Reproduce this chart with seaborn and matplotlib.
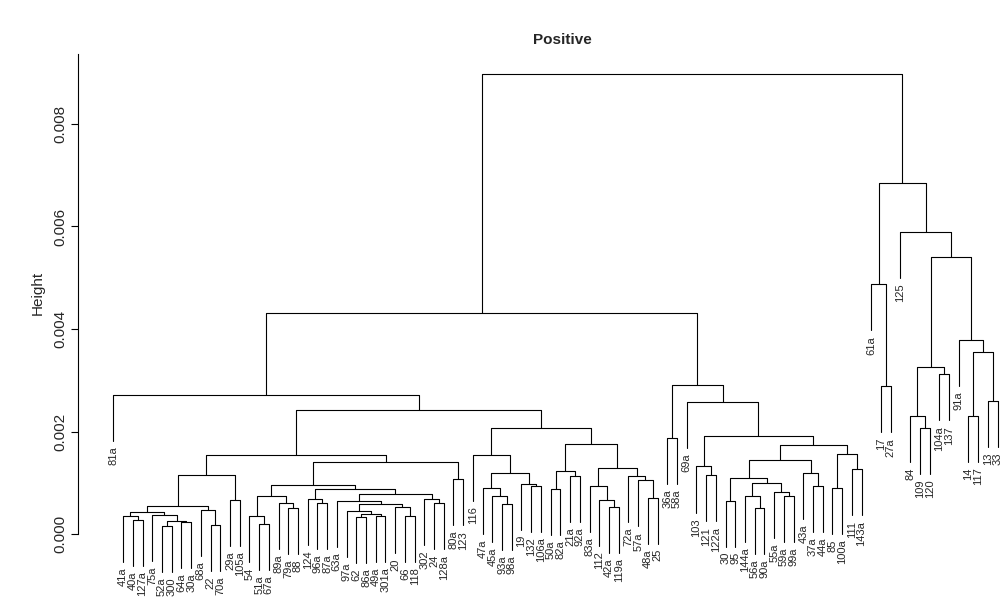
import numpy as np
import pandas as pd
import matplotlib
matplotlib.use("Agg")
import matplotlib.pyplot as plt
import seaborn as sns

# === DATA ===
# leaf labels, left to right as they appear under the tree
LABELS = [
    "81a", "41a", "40a", "127a", "75a", "52a", "300", "64a", "30a", "68a",
    "22", "70a", "29a", "105a", "54", "51a", "67a", "89a", "79a", "88",
    "124", "96a", "87a", "63a", "97a", "62", "86a", "49a", "301a", "20",
    "66", "118", "302", "24", "128a", "80a", "123", "116", "47a", "45a",
    "93a", "98a", "19", "132", "106a", "50a", "82a", "21a", "92a", "83a",
    "112", "42a", "119a", "72a", "57a", "48a", "25", "36a", "58a", "69a",
    "103", "121", "122a", "30", "95", "144a", "56a", "90a", "55a", "59a",
    "99a", "43a", "37a", "44a", "85", "100a", "111", "143a", "61a", "17",
    "27a", "125", "84", "109", "120", "104a", "137", "91a", "14", "117",
    "13", "33",
]

# hclust-style merge table: negative = leaf number, positive = earlier merge row
MERGE_LEFT = [
    -3, -2, -6, -8, 3, -5, 2, -11, -10, 7,
    -13, 10, -16, -15, -19, -18, 14, -22, -21, -26,
    -28, 20, -25, -31, -30, 23, -24, -34, -33, 27,
    19, 17, -36, 32, 12, -41, -40, -39, -44, -43,
    38, -38, -46, -48, 43, -52, -51, -50, -56, -55,
    -54, 48, 45, 42, 35, -1, -58, -62, -61, -64,
    -67, -66, -70, -69, 62, 60, -73, -72, 66, -75,
    -77, 70, 69, 59, -60, 57, 56, -80, -79, -84,
    -83, -86, 81, -89, -91, 84, -88, 83, -82, 79,
    77,
]
MERGE_RIGHT = [
    -4, 1, -7, -9, 4, 5, 6, -12, 8, 9,
    -14, 11, -17, 13, -20, 15, 16, -23, 18, -27,
    -29, 21, 22, -32, 24, 25, 26, -35, 28, 29,
    30, 31, -37, 33, 34, -42, 36, 37, -45, 39,
    40, 41, -47, -49, 44, -53, 46, 47, -57, 49,
    50, 51, 52, 53, 54, 55, -59, -63, 58, -65,
    -68, 61, -71, 63, 64, 65, -74, 67, 68, -76,
    -78, 71, 72, 73, 74, 75, 76, -81, 78, -85,
    80, -87, 82, -90, -92, 85, 86, 87, 88, 89,
    90,
]
HEIGHTS = np.array([
    0.277, 0.361, 0.156, 0.244, 0.264, 0.381, 0.426, 0.180, 0.479, 0.543,
    0.674, 1.156, 0.205, 0.352, 0.508, 0.605, 0.738, 0.602, 0.680, 0.332,
    0.361, 0.400, 0.459, 0.361, 0.523, 0.596, 0.654, 0.602, 0.688, 0.781,
    0.883, 0.961, 1.070, 1.402, 1.547, 0.596, 0.742, 0.908, 0.938, 0.986,
    1.195, 1.547, 0.883, 1.139, 1.221, 0.533, 0.668, 0.938, 0.713, 1.045,
    1.137, 1.285, 1.762, 2.061, 2.412, 2.719, 1.871, 1.143, 1.318, 0.654,
    0.518, 0.752, 0.742, 0.830, 0.992, 1.084, 0.947, 1.191, 1.449, 0.895,
    1.260, 1.553, 1.738, 1.908, 2.574, 2.914, 4.307, 2.881, 4.873, 2.074,
    2.301, 3.115, 3.258, 2.301, 2.594, 3.559, 3.793, 5.395, 5.889, 6.846,
    8.975,
]) * 1e-3

TITLE = "Positive"
YLABEL = "Height"
YTICKS = [0.0, 0.002, 0.004, 0.006, 0.008]

HANG = 0.1 * HEIGHTS.max()


def build_segments():
    n = len(LABELS)
    node_x, rows, leaf_pos = {}, [], []
    for k, (a, b) in enumerate(zip(MERGE_LEFT, MERGE_RIGHT), start=1):
        H = HEIGHTS[k - 1]
        pts = []
        for c in (a, b):
            if c < 0:
                x, bottom = float(-c), H - HANG
                leaf_pos.append((LABELS[-c - 1], x, bottom))
            else:
                x, bottom = node_x[c], HEIGHTS[c - 1]
            pts.append((x, bottom))
        (xl, bl), (xr, br) = pts
        node_x[k] = (xl + xr) / 2
        for x, h in [(xl, bl), (xl, H), (xr, H), (xr, br)]:
            rows.append({"node": k, "x": x, "h": h})
    return pd.DataFrame(rows), leaf_pos, n


def main():
    sns.set_theme(style="white")
    plt.rcParams["font.family"] = ["Liberation Sans", "DejaVu Sans"]

    seg, leaf_pos, n = build_segments()

    fig = plt.figure(figsize=(10, 5.98), dpi=100)
    ax = fig.add_axes([0.078, 6 / 598, 0.955, 538 / 598])

    sns.lineplot(data=seg, x="x", y="h", units="node", estimator=None,
                 sort=False, color="black", linewidth=0.8, legend=False, ax=ax)

    for lab, x, y in leaf_pos:
        ax.annotate(lab, (x, y), xytext=(0, -4), textcoords="offset points",
                    rotation=90, ha="center", va="top", fontsize=8,
                    annotation_clip=False)

    # R-like limits: 4% padding around the data range
    lo = min(p[2] for p in leaf_pos)
    hi = HEIGHTS.max()
    pad = 0.04 * (hi - lo)
    ax.set_ylim(lo - pad, hi + pad)
    xpad = 0.04 * (n - 1)
    ax.set_xlim(1 - xpad, n + xpad)

    ax.spines[["top", "right", "bottom"]].set_visible(False)
    ax.spines["left"].set_bounds(0, hi + pad)
    ax.spines["left"].set_linewidth(0.8)
    ax.spines["left"].set_color("black")
    ax.set_xticks([])
    ax.set_yticks(YTICKS)
    ax.set_yticklabels([f"{v:.3f}" for v in YTICKS], rotation=90, va="center")
    ax.tick_params(axis="y", direction="out", length=5, width=0.8,
                   labelsize=11, pad=3, left=True, color="black")
    ax.set_xlabel("")
    ax.set_ylabel("")
    ax.patch.set_visible(False)

    fig.text(0.038, 1 - 293 / 598, YLABEL, rotation=90, ha="center",
             va="center", fontsize=11)
    fig.text(0.562, 1 - 40 / 598, TITLE, ha="center", va="center",
             fontsize=11, fontweight="bold")

    fig.savefig("out.png", dpi=100)
    plt.close(fig)


if __name__ == "__main__":
    main()
